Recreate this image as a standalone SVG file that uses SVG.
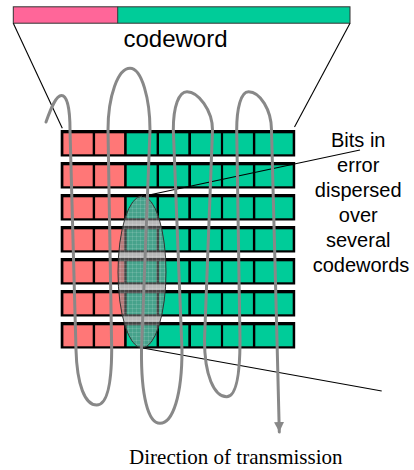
<svg xmlns="http://www.w3.org/2000/svg" width="414" height="470" viewBox="0 0 414 470">
  <style>
    .pink { fill: #FF7777; }
    .green { fill: #00CC99; }
    .frame { fill: #000000; }
    .thin { stroke: #000000; stroke-width: 1.1; fill: none; }
    .sans { font-family: "Liberation Sans", Arial, sans-serif; fill: #000000; }
    .serif { font-family: "Liberation Serif", "Times New Roman", serif; fill: #000000; }
    .path { stroke: #888888; stroke-width: 3; fill: none; stroke-linecap: round; stroke-linejoin: round; }
  </style>
  <defs>
    <!-- one row of the interleaver: 2 parity-style pink cells, 5 green cells -->
    <g id="row">
      <rect class="frame" x="60.7" y="0" width="234.5" height="26.5"/>
      <rect class="pink" x="63.4" y="3.3" width="29.3" height="21"/>
      <rect class="pink" x="95.1" y="3.3" width="29" height="21"/>
      <rect class="green" x="126.7" y="3.3" width="29.9" height="21"/>
      <rect class="green" x="159" y="3.3" width="29.3" height="21"/>
      <rect class="green" x="191" y="3.3" width="29.9" height="21"/>
      <rect class="green" x="223.1" y="3.3" width="29.8" height="21"/>
      <rect class="green" x="255.3" y="3.3" width="37.4" height="21"/>
    </g>
    <pattern id="dither" width="4" height="4" patternUnits="userSpaceOnUse">
      <rect width="4" height="4" fill="#808080" fill-opacity="0.55"/>
      <path d="M0 0.5 H4 M0.5 0 V4" stroke="#ffffff" stroke-opacity="0.12" stroke-width="1"/>
    </pattern>
    <marker id="arrow" markerUnits="userSpaceOnUse" markerWidth="12" markerHeight="12" refX="10" refY="5" orient="auto">
      <path d="M0,0 L10,5 L0,10 Z" fill="#888888"/>
    </marker>
  </defs>

  <!-- codeword bar -->
  <g id="codeword-bar">
    <rect x="13.3" y="6.8" width="104.4" height="16.4" fill="#FF6699"/>
    <rect x="117.7" y="6.8" width="232.3" height="16.4" fill="#00CC99"/>
    <rect x="13.3" y="6.8" width="336.7" height="16.4" fill="none" stroke="#333333" stroke-width="1"/>
    <line x1="117.7" y1="6.8" x2="117.7" y2="23.2" stroke="#333333" stroke-width="1"/>
  </g>
  <g id="codeword-label">
    <text class="sans" x="175.5" y="47" font-size="24" text-anchor="middle">codeword</text>
  </g>

  <!-- interleaver rows -->
  <g id="row-1"><use href="#row" transform="translate(0,130)"/></g>
  <g id="row-2"><use href="#row" transform="translate(0,162)"/></g>
  <g id="row-3"><use href="#row" transform="translate(0,194)"/></g>
  <g id="row-4"><use href="#row" transform="translate(0,226)"/></g>
  <g id="row-5"><use href="#row" transform="translate(0,258)"/></g>
  <g id="row-6"><use href="#row" transform="translate(0,290)"/></g>
  <g id="row-7"><use href="#row" transform="translate(0,322)"/></g>

  <!-- burst of bit errors -->
  <g id="error-burst">
    <ellipse cx="142" cy="272" rx="24" ry="76" fill="url(#dither)" stroke="#333333" stroke-width="1"/>
  </g>

  <g id="connectors">
    <!-- codeword expanded onto the grid -->
    <line class="thin" x1="13.3" y1="23.2" x2="62.3" y2="128.3"/>
    <line class="thin" x1="350" y1="23.2" x2="294.5" y2="127"/>
    <!-- pointers from the burst to its caption -->
    <line class="thin" x1="142" y1="196.5" x2="360" y2="150"/>
    <line class="thin" x1="140" y1="347.5" x2="381.7" y2="391"/>
    <!-- transmission order -->
    <path class="path" marker-end="url(#arrow)" d="M46,122 C51,108 56,95.5 61.5,95.5 C67.5,95.5 70,110 70,130 L76,350 C77,385 85,405 96.7,405 C107,405 111.5,385 111.7,350 L108,130 C108,96 118,68.3 130,68.3 C142,68.3 150,100 150,130 L141.5,350 C141,395 148,423.3 160,423.3 C173,423.3 182,395 182,350 L173.3,130 C173.3,106 179,91.7 187,91.7 C198,91.7 212.5,110 212.5,130 L204.5,340 C204.5,375 214,396.7 226.7,396.7 C237,396.7 240,372 240,340 L236.7,130 C236.7,108 241,91.7 248.5,91.7 C260,91.7 271.5,110 271.5,130 L277,340 L279.3,432"/>
  </g>

  <g id="caption">
    <text class="sans" font-size="20" text-anchor="middle">
      <tspan x="361" y="146.7">Bits in</tspan>
      <tspan x="361" y="171.7">error</tspan>
      <tspan x="361" y="196.7">dispersed</tspan>
      <tspan x="361" y="221.7">over</tspan>
      <tspan x="361" y="246.7">several</tspan>
      <tspan x="361" y="271.7">codewords</tspan>
    </text>
  </g>
  <g id="direction-label">
    <text class="serif" x="235.8" y="464" font-size="21" text-anchor="middle">Direction of transmission</text>
  </g>
</svg>
